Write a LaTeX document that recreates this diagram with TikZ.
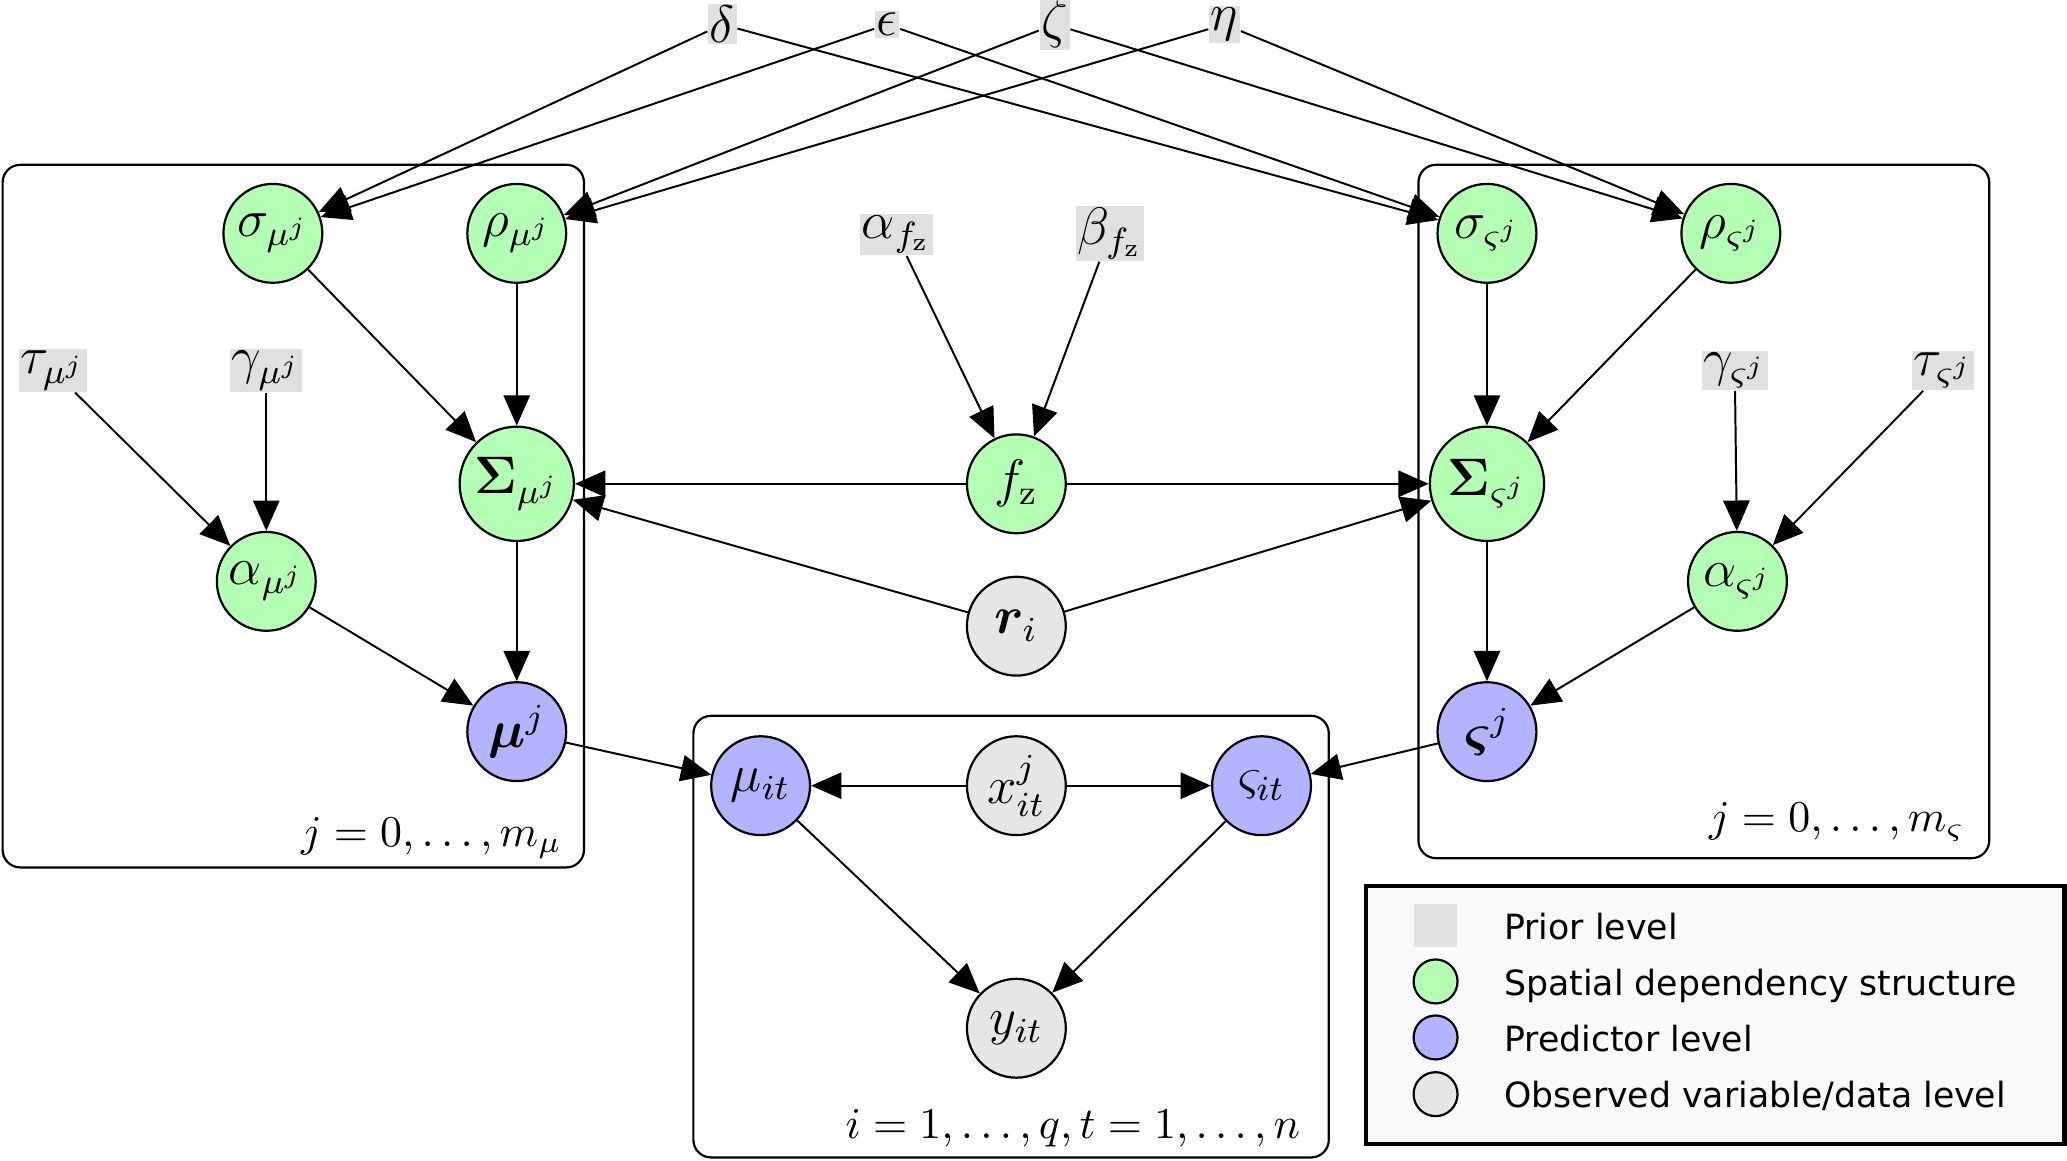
\documentclass[tikz,border=0pt]{standalone}
\usepackage{amsmath,bm}
\usepackage{fontspec}
\newfontfamily\legfont{DejaVu Sans}
\usetikzlibrary{arrows.meta}
\definecolor{grn}{RGB}{179,255,179}
\definecolor{blu}{RGB}{179,179,255}
\definecolor{obs}{RGB}{230,230,230}
\definecolor{pri}{RGB}{224,224,224}
\definecolor{legbg}{RGB}{249,249,249}
\begin{document}
\begin{tikzpicture}[x=0.3pt,y=-0.3pt,
  every node/.style={font=\fontsize{11.5}{13}\selectfont},
  var/.style={circle,draw,line width=0.5pt,inner sep=0pt,minimum size=22.5pt},
  spat/.style={var,fill=grn},
  pred/.style={var,fill=blu},
  obsv/.style={var,fill=obs},
  prior/.style={rectangle,fill=pri,inner sep=0.4pt},
  plate/.style={draw,line width=0.5pt,rounded corners=4pt},
  edge/.style={line width=0.45pt,-{Triangle[length=6.9pt,width=6pt]}},
  platelab/.style={font=\fontsize{9.6}{11.5}\selectfont,anchor=base east,inner sep=0pt},
  legtext/.style={font=\legfont\fontsize{7.9}{9.5}\selectfont,anchor=base west,inner sep=0pt}
]
\useasboundingbox (0,0) rectangle (1568,880);
% plates
\draw[plate] (2,125) rectangle (443,658);
\draw[plate] (1076,125) rectangle (1509,651);
\draw[plate] (526,543) rectangle (1008,878);
\node[platelab] (lpl) at (427,642) {$j=0,\ldots,m_{\mu}$};
\node[platelab] (rpl) at (1491,631) {$j=0,\ldots,m_{\varsigma}$};
\node[platelab] (cpl) at (987,864) {$i=1,\ldots,q, t=1,\ldots,n$};
% priors on top
\node[prior] (pdelta) at (548,18.5) {$\delta$};
\node[prior] (peps) at (673,18.5) {$\epsilon$};
\node[prior] (pzeta) at (800,18.5) {$\zeta$};
\node[prior] (peta) at (929,18.5) {$\eta$};
% left plate
\node[spat] (smu) at (207,177) {$\sigma_{\mu^j}$};
\node[spat] (rmu) at (392,177) {$\rho_{\mu^j}$};
\node[prior] (tmu) at (40,281) {$\tau_{\mu^j}$};
\node[prior] (gmu) at (202,281) {$\gamma_{\mu^j}$};
\node[spat,minimum size=26pt] (Smu) at (392,367) {$\bm{\Sigma}_{\mu^j}$};
\node[spat] (amu) at (202,441) {$\alpha_{\mu^j}$};
\node[pred] (mu) at (392,555) {$\bm{\mu}^j$};
% centre
\node[prior] (afz) at (680,178) {$\alpha_{f_{\mathrm{z}}}$};
\node[prior] (bfz) at (842,177) {$\beta_{f_{\mathrm{z}}}$};
\node[spat] (fz) at (771,367) {$f_{\mathrm{z}}$};
\node[obsv] (ri) at (771,475) {$\bm{r}_i$};
\node[pred] (muit) at (577,596) {$\mu_{it}$};
\node[obsv] (xit) at (771,596) {$x_{it}^j$};
\node[pred] (vsit) at (957,596) {$\varsigma_{it}$};
\node[obsv] (yit) at (771,780) {$y_{it}$};
% right plate
\node[spat] (svs) at (1128,177) {$\sigma_{\varsigma^j}$};
\node[spat] (rvs) at (1313,177) {$\rho_{\varsigma^j}$};
\node[prior] (gvs) at (1316,281) {$\gamma_{\varsigma^j}$};
\node[prior] (tvs) at (1474,281) {$\tau_{\varsigma^j}$};
\node[spat,minimum size=26pt] (Svs) at (1128,367) {$\bm{\Sigma}_{\varsigma^j}$};
\node[spat] (avs) at (1318,441) {$\alpha_{\varsigma^j}$};
\node[pred] (vs) at (1128,555) {$\bm{\varsigma}^j$};
% edges
\draw[edge] (pdelta) -- (smu);
\draw[edge] (peps) -- (smu);
\draw[edge] (pzeta) -- (rmu);
\draw[edge] (peta) -- (rmu);
\draw[edge] (pdelta) -- (svs);
\draw[edge] (peps) -- (svs);
\draw[edge] (pzeta) -- (rvs);
\draw[edge] (peta) -- (rvs);
\draw[edge] (smu) -- (Smu);
\draw[edge] (rmu) -- (Smu);
\draw[edge] (tmu) -- (amu);
\draw[edge] (gmu) -- (amu);
\draw[edge] (Smu) -- (mu);
\draw[edge] (amu) -- (mu);
\draw[edge] (afz) -- (fz);
\draw[edge] (bfz) -- (fz);
\draw[edge] (fz) -- (Smu);
\draw[edge] (fz) -- (Svs);
\draw[edge] (ri) -- (Smu);
\draw[edge] (ri) -- (Svs);
\draw[edge] (mu) -- (muit);
\draw[edge] (xit) -- (muit);
\draw[edge] (xit) -- (vsit);
\draw[edge] (muit) -- (yit);
\draw[edge] (vsit) -- (yit);
\draw[edge] (vs) -- (vsit);
\draw[edge] (svs) -- (Svs);
\draw[edge] (rvs) -- (Svs);
\draw[edge] (gvs) -- (avs);
\draw[edge] (tvs) -- (avs);
\draw[edge] (Svs) -- (vs);
\draw[edge] (avs) -- (vs);
% legend
\draw[line width=1pt,fill=legbg] (1036,672) rectangle (1566,868);
\node[rectangle,fill=pri,minimum width=9.6pt,minimum height=9.6pt,inner sep=0pt] (lg1) at (1089,702) {};
\node[circle,draw,line width=0.5pt,fill=grn,minimum size=10pt,inner sep=0pt] (lg2) at (1089,744.5) {};
\node[circle,draw,line width=0.5pt,fill=blu,minimum size=10pt,inner sep=0pt] (lg3) at (1089,787) {};
\node[circle,draw,line width=0.5pt,fill=obs,minimum size=10pt,inner sep=0pt] (lg4) at (1089,830) {};
\node[legtext] (lt1) at (1140.5,712.5) {Prior level};
\node[legtext] (lt2) at (1140.5,755) {Spatial dependency structure};
\node[legtext] (lt3) at (1140.5,797.5) {Predictor level};
\node[legtext] (lt4) at (1140.5,840) {Observed variable/data level};
\end{tikzpicture}
\end{document}
